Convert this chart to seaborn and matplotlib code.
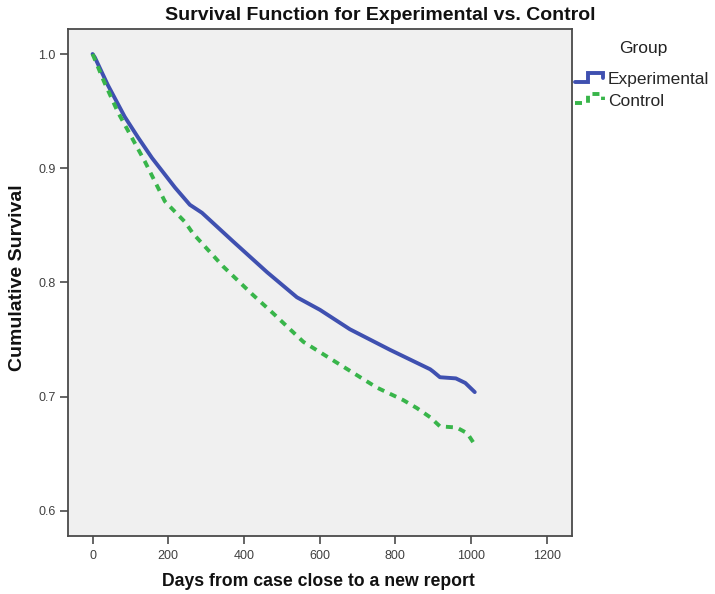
import numpy as np
import pandas as pd
import matplotlib
matplotlib.use("Agg")
import matplotlib.pyplot as plt
from matplotlib.lines import Line2D
from matplotlib.legend_handler import HandlerBase
import seaborn as sns

# ---- data ----
exp_days = [0, 6, 40, 85, 120, 157, 218, 257, 289, 371, 461, 540, 601, 680, 786, 892, 900, 918, 960, 985, 1010]
exp_surv = [1.0, 0.997, 0.973, 0.945, 0.927, 0.909, 0.883, 0.868, 0.861, 0.836, 0.809, 0.787, 0.776, 0.759, 0.741, 0.724, 0.722, 0.717, 0.716, 0.712, 0.704]

ctl_days = [0, 30, 67, 138, 191, 244, 265, 345, 424, 477, 557, 654, 751, 821, 857, 892, 918, 962, 990, 1010]
ctl_surv = [1.0, 0.976, 0.949, 0.906, 0.871, 0.853, 0.843, 0.814, 0.789, 0.773, 0.748, 0.728, 0.708, 0.697, 0.690, 0.682, 0.674, 0.673, 0.668, 0.658]

groups = ["Experimental", "Control"]
x_ticks = [0, 200, 400, 600, 800, 1000, 1200]
y_ticks = [0.6, 0.7, 0.8, 0.9, 1.0]

df = pd.concat([
    pd.DataFrame({"Days": exp_days, "Survival": exp_surv, "Group": groups[0]}),
    pd.DataFrame({"Days": ctl_days, "Survival": ctl_surv, "Group": groups[1]}),
], ignore_index=True)

sns.set_style("ticks", {"axes.facecolor": "#F0F0F0", "axes.edgecolor": "#4A4A4A"})
plt.rcParams["font.family"] = ["Liberation Sans", "DejaVu Sans"]

fig = plt.figure(figsize=(7.15, 5.94), dpi=100)
ax = fig.add_axes([68/715, 1 - 536/594, (572-68)/715, (536-29)/594])

palette = {"Experimental": "#3F50B0", "Control": "#38B54A"}
dashes = {"Experimental": "", "Control": (1.8, 1.6)}
sns.lineplot(data=df, x="Days", y="Survival", hue="Group", style="Group",
             palette=palette, dashes=dashes, linewidth=2.8, ax=ax,
             hue_order=groups, style_order=groups, estimator=None, sort=True,
             legend=False)

ax.set_xlim(-65, 1267)
ax.set_ylim(0.578, 1.0219)
ax.set_xticks(x_ticks)
ax.set_xticklabels([str(t) for t in x_ticks])
ax.set_yticks(y_ticks)
ax.set_yticklabels([f"{t:.1f}" for t in y_ticks])
ax.tick_params(axis="both", direction="out", length=6, width=1.2, color="#4A4A4A",
               labelsize=9, labelcolor="#404040", pad=3, bottom=True, left=True)
ax.tick_params(axis="x", pad=4)
for s in ax.spines.values():
    s.set_linewidth(1.3)
    s.set_color("#4A4A4A")

ax.set_xlabel("")
ax.set_ylabel("")
fig.text(318/715, 1 - 581/594, "Days from case close to a new report", ha="center", va="center",
         fontsize=12.7, fontweight="bold", color="#111111")
fig.text(18/715, 1 - 278/594, "Cumulative Survival", ha="center", va="center", rotation=90,
         fontsize=14, fontweight="bold", color="#111111")
fig.text(380/715, 1 - 16/594, "Survival Function for Experimental vs. Control", ha="center", va="center",
         fontsize=14, fontweight="bold", color="#111111")


class StepHandler(HandlerBase):
    def create_artists(self, legend, orig_handle, xdescent, ydescent, width, height, fontsize, trans):
        x0, x1 = -xdescent, -xdescent + width
        lo = -ydescent + height * 0.2
        hi = -ydescent + height * 0.95
        xs = [x0, x0 + 0.45 * width, x0 + 0.45 * width, x1, x1]
        ys = [lo, lo, hi, hi, lo + 0.3 * height]
        ln = Line2D(xs, ys, color=orig_handle.get_color(), linewidth=orig_handle.get_linewidth(),
                    linestyle=orig_handle.get_linestyle(), solid_joinstyle="miter")
        if orig_handle.get_linestyle() not in ("-", "solid"):
            ln.set_dashes((1.8, 1.6))
        ln.set_transform(trans)
        return [ln]


handles = [Line2D([], [], color=palette["Experimental"], linewidth=2.8, linestyle="-"),
           Line2D([], [], color=palette["Control"], linewidth=2.8, linestyle="--")]
fig.text(643/715, 1 - 48/594, "Group", ha="center", va="center", fontsize=12.5, color="#222222")
fig.legend(handles=handles, labels=groups, loc="upper left",
           bbox_to_anchor=(575/715, 1 - 72/594),
           frameon=False, fontsize=12.5, handlelength=1.6,
           handletextpad=0.3, labelspacing=0.38, borderpad=0.0, borderaxespad=0.0,
           handler_map={Line2D: StepHandler()})

fig.savefig("out.png", dpi=100, facecolor="white")
